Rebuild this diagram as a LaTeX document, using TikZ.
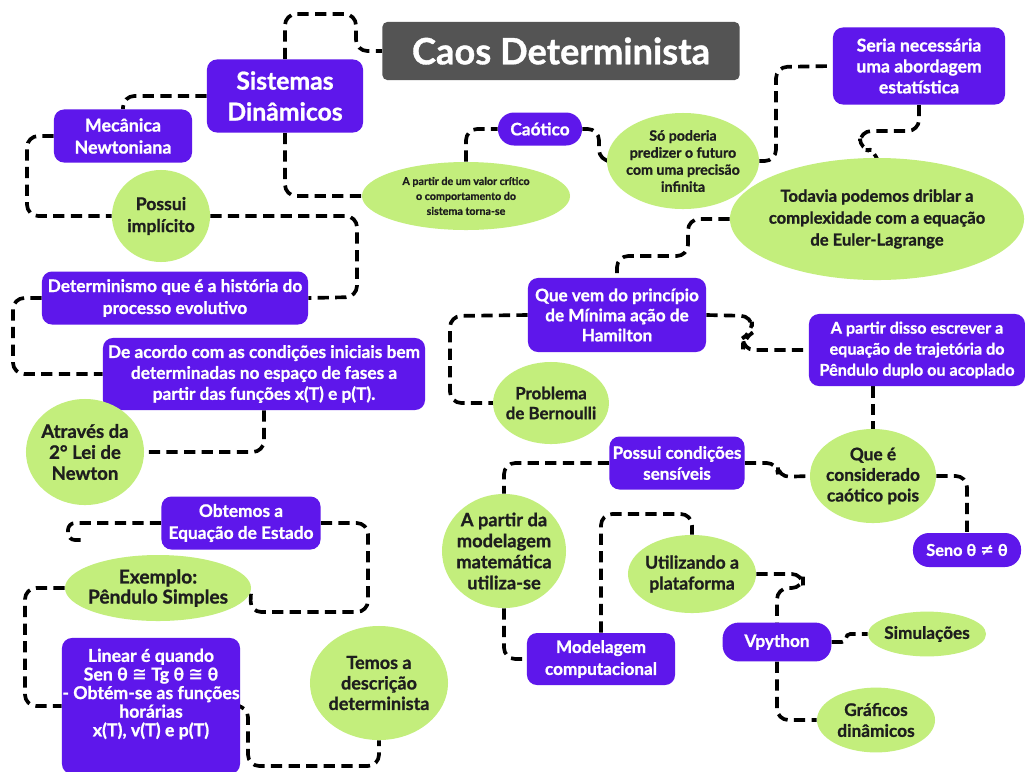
\documentclass[tikz,border=0pt]{standalone}
\usepackage{fontspec}
\setmainfont{Lato}[BoldFeatures={FakeBold=1}]
\newfontfamily\glyphfont{DejaVu Sans}
\usetikzlibrary{shapes.geometric,backgrounds}
\definecolor{mypurple}{HTML}{5E17EB}
\definecolor{mygreen}{HTML}{C3EE7C}
\definecolor{mygray}{HTML}{545454}
\definecolor{myink}{HTML}{1E1E1E}
\newcommand{\fsz}[2]{\fontsize{#1}{\fpeval{#2*#1}}\selectfont\bfseries}
\newcommand{\sym}[1]{{\glyphfont\bfseries #1}}

\begin{document}
\begin{tikzpicture}[x=0.025cm, y=-0.025cm,
    pbox/.style={fill=mypurple, text=white, rounded corners=0.25cm, align=center, inner sep=0pt},
    pill/.style={pbox, rounded corners=0.4cm},
    gbub/.style={ellipse, fill=mygreen, text=myink, align=center, inner sep=-3pt},
    link/.style={line width=2.6pt, dash pattern=on 8pt off 4.5pt, rounded corners=8pt}]
    \useasboundingbox (0,0) rectangle (1025,771);

    % left column
    \node[pbox, fill=mygray, rounded corners=0.12cm, minimum width=8.925cm, minimum height=1.45cm, font=\fsz{25.8}{1.2}] (cd) at (561,51) {Caos Determinista};
    \node[pbox, minimum width=3.9cm, minimum height=1.825cm, font=\fsz{17.6}{1.25}] (sd) at (285,96) {Sistemas\\Dinâmicos};
    \node[pbox, minimum width=3.45cm, minimum height=1.325cm, font=\fsz{12.7}{1.23}] (mec) at (123,136) {Mecânica\\Newtoniana};
    \node[gbub, minimum width=2.45cm, minimum height=2.3cm, font=\fsz{12.5}{1.25}] (pi) at (161,216) {Possui\\implícito};
    \node[pbox, minimum width=6.65cm, minimum height=1.325cm, font=\fsz{12.3}{1.27}] (det) at (175,298) {Determinismo que é a história do\\processo evolutivo};
    \node[pbox, minimum width=8.05cm, minimum height=1.8cm, font=\fsz{12.3}{1.21}] (acd) at (264,374) {De acordo com as condições iniciais bem\\determinadas no espaço de fases a\\partir das funções x(T) e p(T).};
    \node[gbub, minimum width=2.95cm, minimum height=2.65cm, font=\fsz{13.2}{1.13}] (atr) at (85,452) {Através da\\2° Lei de\\Newton};
    \node[pbox, minimum width=3.975cm, minimum height=1.325cm, font=\fsz{12.3}{1.27}] (obt) at (241,523) {Obtemos a\\Equação de Estado};
    \node[gbub, minimum width=4.35cm, minimum height=1.65cm, font=\fsz{13.6}{1.05}] (exs) at (158,588) {Exemplo:\\Pêndulo Simples};
    \node[pbox, minimum width=4.45cm, minimum height=3.4cm, font=\fsz{12.6}{1.05}] (lin) at (151,706) {Linear é quando\\Sen θ \sym{≅} Tg θ \sym{≅} θ\\- Obtém-se as funções\\horárias\\x(T), v(T) e p(T)\\[6pt]\mbox{}};
    \node[gbub, minimum width=3.45cm, minimum height=2.85cm, font=\fsz{12.8}{1.14}] (tms) at (379,683) {Temos a\\descrição\\determinista};

    % upper right
    \node[gbub, minimum width=5.2cm, minimum height=1.7cm, font=\fsz{7.6}{1.4}] (val) at (466,196) {A partir de um valor crítico\\o comportamento do\\sistema torna-se};
    \node[pill, minimum width=2.1cm, minimum height=0.825cm, font=\fsz{12.3}{1.2}] (cao) at (540,129) {Caótico};
    \node[gbub, minimum width=3.8cm, minimum height=2.4cm, font=\fsz{10.1}{1.2}] (sop) at (683,161) {Só poderia\\predizer o futuro\\com uma precisão\\infinita};
    \node[pbox, minimum width=4.3cm, minimum height=1.925cm, font=\fsz{12.5}{1.19}] (ser) at (919,66) {Seria necessária\\uma abordagem\\estatística};
    \node[gbub, minimum width=7.3cm, minimum height=3.05cm, font=\fsz{11.8}{1.32}] (tod) at (877,219) {Todavia podemos driblar a\\complexidade com a equação\\de Euler-Lagrange};
    \node[pbox, minimum width=4.45cm, minimum height=1.85cm, font=\fsz{12.2}{1.17}] (qvp) at (617,315) {Que vem do princípio\\de Mínima ação de\\Hamilton};
    \node[pbox, minimum width=5.4cm, minimum height=1.8cm, font=\fsz{11.5}{1.3}] (dis) at (917,350) {A partir disso escrever a\\equação de trajetória do\\Pêndulo duplo ou acoplado};
    \node[gbub, minimum width=2.7cm, minimum height=2.05cm, font=\fsz{12}{1.18}] (prb) at (551,403) {Problema\\de Bernoulli};
    \node[pbox, minimum width=3.375cm, minimum height=1.325cm, font=\fsz{12.1}{1.23}] (pcs) at (677,463) {Possui condições\\sensíveis};
    \node[gbub, minimum width=3.15cm, minimum height=2.35cm, font=\fsz{12.3}{1.19}] (qec) at (873,476) {Que é\\considerado\\caótico pois};
    \node[pill, minimum width=2.7cm, minimum height=0.85cm, font=\fsz{11.6}{1.2}] (sen) at (967,550) {Seno θ \sym{≠} θ};

    % lower right
    \node[gbub, minimum width=3.1cm, minimum height=2.85cm, font=\fsz{13}{1.15}] (mdm) at (504,551) {A partir da\\modelagem\\matemática\\utiliza-se};
    \node[pbox, minimum width=3.7cm, minimum height=1.3cm, font=\fsz{12.2}{1.28}] (mcp) at (601,659) {Modelagem\\computacional};
    \node[gbub, minimum width=3.2cm, minimum height=1.95cm, font=\fsz{12.6}{1.18}] (utp) at (692,574) {Utilizando a\\plataforma};
    \node[pill, minimum width=2.72cm, minimum height=0.97cm, font=\fsz{12.2}{1.2}] (vpy) at (777,642) {Vpython};
    \node[gbub, minimum width=2.95cm, minimum height=1.12cm, font=\fsz{12.2}{1.2}] (sim) at (927,634) {Simulações};
    \node[gbub, minimum width=2.95cm, minimum height=1.62cm, font=\fsz{12.3}{1.21}] (gra) at (876,720) {Gráficos\\dinâmicos};

    % dashed links
    \begin{scope}[on background layer]
    \fill[white] (0,0) rectangle (1025,771);
    \draw[link] (sd.north) -- (285,14) -- (356,14) -- (356,51) -- (cd.west);
    \draw[link] (sd.west) -| (mec.north);
    \draw[link] (mec.west) -- (27,136) -- (27,216) -- (pi.west);
    \draw[link] (pi.east) -- (357,216) -- (357,297) -- (det.east);
    \draw[link] (det.west) -- (13,298) -- (13,374) -- (acd.west);
    \draw[link] (acd.south) |- (atr.east);
    \coordinate (hook) at (84,540);
    \draw[link, rounded corners=5pt] (obt.west) -- (68,523) -- (68,540) -- (hook);
    \draw[link] (obt.east) -- (368,523) -- (368,612) -- (250,612) -- (exs.east);
    \draw[link] (exs.west) -- (25,588) -- (25,706) -- (lin.west);
    \draw[link] (lin.east) -- (248,706) -- (248,766) -- (379,766) -- (tms.south);
    \draw[link] (sd.south) |- (val.west);
    \draw[link] (val.north) |- (cao.west);
    \draw[link] (cao.east) -- (599,129) -- (599,161) -- (sop.west);
    \draw[link] (sop.east) -- (776,161) -- (776,67) -- (ser.west);
    \draw[link] (ser.south) -- (919,131) -- (860,131) -- (860,150) -- (877,150) -- (tod.north);
    \draw[link] (tod.west) -- (688,219) -- (688,256) -- (617,256) -- (qvp.north);
    \draw[link] (qvp.west) -- (450,316) -- (450,403) -- (prb.west);
    \draw[link] (qvp.east) -- (752,316) -- (752,333) -- (743,338) -- (743,350) -- (dis.west);
    \draw[link] (dis.south -| qec.north) -- (qec.north);
    \draw[link] (pcs.east) -- (778,463) -- (778,477) -- (qec.west);
    \draw[link] (qec.east) -| (sen.north);
    \draw[link] (pcs.west) -| (mdm.north);
    \draw[link] (mdm.south) |- (mcp.west);
    \draw[link] (mcp.north) -- (601,514) -| (utp.north);
    \draw[link] (utp.east) -- (803,574) -- (803,588) -- (777,588) -- (vpy.north);
    \draw[link, rounded corners=3pt] (vpy.east) -- (846,642) -- (846,634) -- (sim.west);
    \draw[link] (vpy.south) |- (gra.west);
    \end{scope}
\end{tikzpicture}
\end{document}
